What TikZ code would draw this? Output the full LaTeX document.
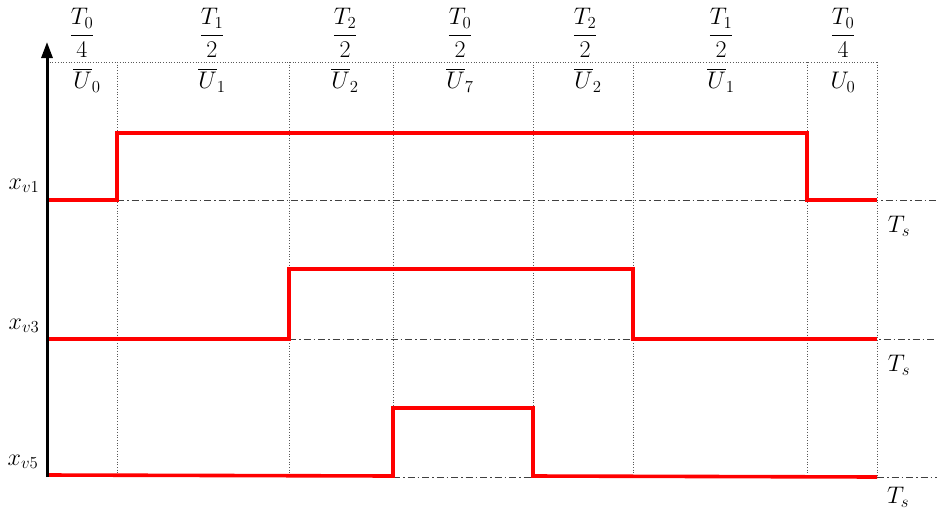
\RequirePackage{fix-cm}
\documentclass[tikz,border=0pt]{standalone}
\usepackage{amsmath}
\usetikzlibrary{arrows.meta}
\begin{document}
\begin{tikzpicture}[x=1pt,y=-1pt,
  lbl/.style={inner sep=0pt,font=\fontsize{24}{28}\selectfont},
  grid/.style={draw=black!65,line width=0.7pt,dotted},
  base/.style={draw=black!75,line width=0.9pt,dash pattern=on 7pt off 3pt on 1.5pt off 3pt},
  sig/.style={draw=red,line width=3.6pt,line join=miter},
  axisline/.style={draw=black,line width=3pt,-{Triangle[length=16pt,width=11pt]}}]
\useasboundingbox (0,0) rectangle (937,512);
\fill[white] (0,0) rectangle (937,512);
% grid
\draw[grid] (47,62) -- (877,62);
\foreach \xx in {117,289,393,533,633,807,877}
  \draw[grid] (\xx,62) -- (\xx,477);
% baselines
\draw[base] (117,200) -- (937,200);
\draw[base] (289,339) -- (937,339);
\draw[base] (393,477) -- (533,477);
\draw[base] (877,477) -- (937,477);
% signals
\draw[sig] (47,200) -- (117,200) -- (117,133) -- (807,133) -- (807,200) -- (877,200);
\draw[sig] (47,339) -- (289,339) -- (289,269) -- (633,269) -- (633,339) -- (877,339);
\draw[sig] (47,475) -- (393,476) -- (393,408) -- (533,408) -- (533,476) -- (877,477);
% axis
\coordinate (ab) at (47,477);
\coordinate (at) at (47,42);
\draw[axisline] (ab) -- (at);
% top labels
\node[lbl] (t1) at (82,33) {$\dfrac{T_0}{4}$};
\node[lbl] (t2) at (212,33) {$\dfrac{T_1}{2}$};
\node[lbl] (t3) at (345,33) {$\dfrac{T_2}{2}$};
\node[lbl] (t4) at (460,33) {$\dfrac{T_0}{2}$};
\node[lbl] (t5) at (585,33) {$\dfrac{T_2}{2}$};
\node[lbl] (t6) at (721,33) {$\dfrac{T_1}{2}$};
\node[lbl] (t7) at (843,33) {$\dfrac{T_0}{4}$};
% state labels
\node[lbl] (u1) at (87,80) {$\overline{U}_0$};
\node[lbl] (u2) at (212,80) {$\overline{U}_1$};
\node[lbl] (u3) at (345,80) {$\overline{U}_2$};
\node[lbl] (u4) at (460,80) {$\overline{U}_7$};
\node[lbl] (u5) at (588,80) {$\overline{U}_2$};
\node[lbl] (u6) at (721,80) {$\overline{U}_1$};
\node[lbl] (u7) at (843,82) {$U_0$};
% signal labels
\node[lbl] (x1) at (24,186) {$x_{v1}$};
\node[lbl] (x3) at (24,326) {$x_{v3}$};
\node[lbl] (x5) at (23,462) {$x_{v5}$};
% Ts labels
\node[lbl] (s1) at (899,226) {$T_s$};
\node[lbl] (s2) at (899,365) {$T_s$};
\node[lbl] (s3) at (898,497) {$T_s$};
\end{tikzpicture}
\end{document}
